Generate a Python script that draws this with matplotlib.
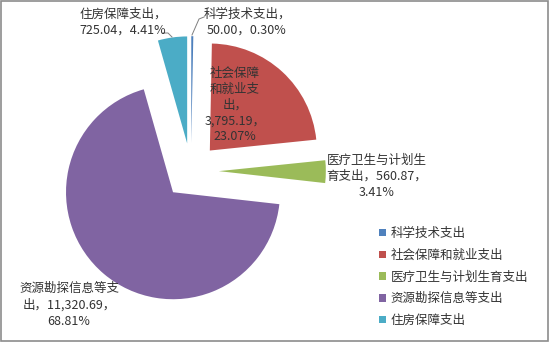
import matplotlib
matplotlib.use("Agg")
import matplotlib.pyplot as plt
from matplotlib.patches import Rectangle

plt.rcParams['font.family'] = ['Noto Sans CJK SC', 'DejaVu Sans']

# data
categories = ["科学技术支出", "社会保障和就业支出", "医疗卫生与计划生育支出",
              "资源勘探信息等支出", "住房保障支出"]
values = [50.00, 3795.19, 560.87, 11320.69, 725.04]
colors = ["#4F81BD", "#C0504D", "#9BBB59", "#8064A2", "#4BACC6"]

total = sum(values)
pcts = [v / total * 100 for v in values]

W, H = 549, 342
CX, CY, R = 191, 171, 107   # pie centre / radius in pixels


def px(x, y):
    # pixel position (from top-left) -> data coords of the pie axes
    return (x - CX) / R, (CY - y) / R


fig = plt.figure(figsize=(W / 100, H / 100), dpi=100)
ax = fig.add_axes([0, 0, 1, 1])

wedges, _ = ax.pie(values, colors=colors, startangle=90, counterclock=False,
                   explode=[0.26] * len(values), radius=1,
                   wedgeprops=dict(linewidth=0))
ax.set_xlim(-CX / R, (W - CX) / R)
ax.set_ylim(-(H - CY) / R, CY / R)
ax.set_aspect('auto')
ax.axis('off')

# data labels: name, value, percent
vs = [f"{v:,.2f}" for v in values]
ps = [f"{p:.2f}%" for p in pcts]
labels = [
    (f"科学技术支出，\n{vs[0]}，{ps[0]}", (247, 22)),
    (f"社会保障\n和就业支\n出，\n{vs[1]}，\n{ps[1]}", (235, 105)),
    (f"医疗卫生与计划生\n育支出，{vs[2]}，\n{ps[2]}", (377, 176)),
    (f"资源勘探信息等支\n出，{vs[3]}，\n{ps[3]}", (69, 305)),
    (f"住房保障支出，\n{vs[4]}，{ps[4]}", (123, 22)),
]
for txt, (x, y) in labels:
    ax.text(*px(x, y), txt, ha='center', va='center', fontsize=9,
            color='#333333', linespacing=1.3, multialignment='center')

# leader lines
lead_sci = [px(192, 35), px(199, 19), px(204, 17)]
lead_house = [px(163, 33), px(168, 33), px(172, 37)]
for pts in (lead_sci, lead_house):
    ax.plot([p[0] for p in pts], [p[1] for p in pts], color='#7f7f7f', lw=0.7)

# legend
ax.legend(wedges, categories, loc='upper left',
          bbox_to_anchor=(379 / W, 1 - 227 / H), bbox_transform=fig.transFigure,
          frameon=False, fontsize=9, handlelength=0.55, handleheight=0.55,
          handletextpad=0.4, labelspacing=0.7, borderpad=0, borderaxespad=0,
          labelcolor='#333333')

# chart border
fig.add_artist(Rectangle((0.001, 0.004), 0.997, 0.994, transform=fig.transFigure,
                         fill=False, edgecolor='#8c8c8c', lw=1.2))

fig.savefig("out.png", dpi=100)
